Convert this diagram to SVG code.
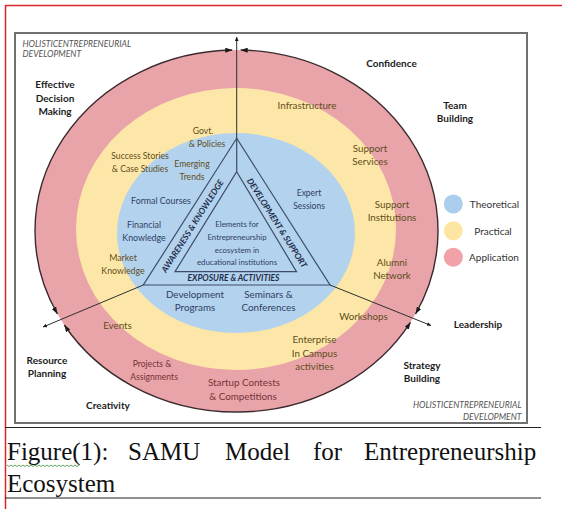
<svg xmlns="http://www.w3.org/2000/svg" width="562" height="509" viewBox="0 0 562 509">
  <style>
    text { font-family: Lato, "Open Sans", "Liberation Sans", sans-serif; text-anchor: middle; }
    .skill { font-size: 10px; font-weight: 700; fill: #1c1c1c; }
    .holistic { font-size: 8.6px; font-style: italic; fill: #555; text-anchor: start; }
    .holistic-r { font-size: 8.6px; font-style: italic; fill: #555; text-anchor: end; }
    .legend { font-size: 10px; fill: #333; }
    .theo { fill: #2e3f63; }
    .prac { fill: #5f4e1a; }
    .appl { fill: #763338; }
    .side { font-size: 8.5px; font-weight: 700; font-style: italic; fill: #1f2d4a; }
    .core { font-size: 7.8px; fill: #2e3f63; }
    .caption { font-family: "Liberation Serif", "Times New Roman", serif; font-size: 25px; fill: #111; text-anchor: start; }
    .axis { stroke: #2e2e2e; stroke-width: 1; fill: none; }
    .rim { stroke: #3b2b2e; stroke-width: 1.4; fill: none; marker-start: url(#rimHead); marker-end: url(#rimHead); }
    .tri { stroke: #3d4d68; stroke-width: 1.2; fill: none; }
  </style>
  <defs>
    <marker id="rimHead" markerUnits="userSpaceOnUse" markerWidth="7" markerHeight="5" refX="7" refY="2.5" orient="auto-start-reverse">
      <path d="M0,0 L7,2.5 L0,5 z" fill="#1a1a1a"/>
    </marker>
    <marker id="axisTip" markerUnits="userSpaceOnUse" markerWidth="4" markerHeight="4" refX="4" refY="2" orient="auto">
      <path d="M0,0 L4,2 L0,4 z" fill="#1a1a1a"/>
    </marker>
  </defs>

  <!-- page edges -->
  <g id="page">
    <rect width="562" height="509" fill="#ffffff"/>
    <line x1="5.5" y1="5" x2="5.5" y2="509" stroke="#d9262b" stroke-width="1.5"/>
    <line x1="5" y1="5.5" x2="562" y2="5.5" stroke="#d9262b" stroke-width="1.5"/>
  </g>

  <!-- figure frame -->
  <g id="frame">
    <rect x="15" y="33" width="512" height="390" fill="#ffffff" stroke="#707070" stroke-width="2"/>
  </g>

  <!-- concentric bands -->
  <g id="rings">
    <ellipse id="ring-application" cx="236.5" cy="231" rx="201.5" ry="181" fill="#e9a4a9"/>
    <ellipse id="ring-practical" cx="236" cy="229" rx="160" ry="141" fill="#fde7a8"/>
    <ellipse id="ring-theoretical" cx="236" cy="233" rx="119" ry="100" fill="#b3d2ee"/>
  </g>

  <!-- axes and rim arcs -->
  <g id="connectors">
    <line class="axis" x1="236.7" y1="138.3" x2="236.7" y2="37" marker-end="url(#axisTip)"/>
    <line class="axis" x1="143.3" y1="285" x2="43" y2="327" marker-end="url(#axisTip)"/>
    <line class="axis" x1="330" y1="285" x2="431" y2="325.5" marker-end="url(#axisTip)"/>
    <path class="rim" d="M240.7,50.04 A201.5,181 0 0 1 415.55,314"/>
    <path class="rim" d="M410.5,322.3 A201.5,181 0 0 1 64.3,325"/>
    <path class="rim" d="M57.45,314 A201.5,181 0 0 1 232.3,50.04"/>
  </g>

  <!-- central triangle -->
  <g id="triangle">
    <polygon class="tri" points="236.7,138.3 330,285 143.3,285"/>
    <polygon class="tri" points="236.7,171.7 296.5,271.7 175,271.7"/>
    <line class="tri" x1="236.7" y1="138.3" x2="236.7" y2="171.7"/>
    <text class="side" transform="translate(192.5,226) rotate(-57.5)" x="0" y="3">AWARENESS &amp; KNOWLEDGE</text>
    <text class="side" transform="translate(277,223) rotate(57.5)" x="0" y="3">DEVELOPMENT &amp; SUPPORT</text>
    <text class="side" x="233.5" y="281.3">EXPOSURE &amp; ACTIVITIES</text>
    <g id="core">
      <text class="core" x="237" y="227">Elements for</text>
      <text class="core" x="237" y="240">Entrepreneurship</text>
      <text class="core" x="237" y="253">ecosystem in</text>
      <text class="core" x="237" y="265">educational institutions</text>
    </g>
  </g>

  <!-- theoretical elements -->
  <g id="theoretical-items" class="theo">
    <text x="161" y="204" font-size="8.8">Formal Courses</text>
    <text x="144" y="227.5" font-size="8.8">Financial</text>
    <text x="144" y="240.5" font-size="8.8">Knowledge</text>
    <text x="309" y="196" font-size="8.5">Expert</text>
    <text x="309" y="208.5" font-size="8.5">Sessions</text>
    <text x="195" y="298" font-size="9.8">Development</text>
    <text x="195" y="311" font-size="9.8">Programs</text>
    <text x="268.5" y="298" font-size="9.8">Seminars &amp;</text>
    <text x="268.5" y="311" font-size="9.8">Conferences</text>
  </g>

  <!-- practical elements -->
  <g id="practical-items" class="prac">
    <text x="203" y="134" font-size="8.6">Govt.</text>
    <text x="207" y="147" font-size="8.6">&amp; Policies</text>
    <text x="140" y="159" font-size="8.6">Success Stories</text>
    <text x="140" y="172" font-size="8.6">&amp; Case Studies</text>
    <text x="192" y="167" font-size="8.6">Emerging</text>
    <text x="192" y="179.5" font-size="8.6">Trends</text>
    <text x="123" y="261" font-size="8.8">Market</text>
    <text x="123" y="273.5" font-size="8.8">Knowledge</text>
    <text x="307" y="109" font-size="9.8">Infrastructure</text>
    <text x="370" y="152" font-size="9.8">Support</text>
    <text x="370" y="165" font-size="9.8">Services</text>
    <text x="392" y="208" font-size="9.8">Support</text>
    <text x="392" y="221" font-size="9.8">Institutions</text>
    <text x="392" y="266" font-size="9.8">Alumni</text>
    <text x="392" y="279" font-size="9.8">Network</text>
    <text x="363.5" y="319.5" font-size="9.8">Workshops</text>
    <text x="117.5" y="329" font-size="9.8">Events</text>
    <text x="314.5" y="343" font-size="9.8">Enterprise</text>
    <text x="314.5" y="356.5" font-size="9.8">In Campus</text>
    <text x="314.5" y="369.5" font-size="9.8">activities</text>
  </g>

  <!-- application elements -->
  <g id="application-items" class="appl">
    <text x="152" y="367" font-size="8.6">Projects &amp;</text>
    <text x="154" y="380" font-size="8.6">Assignments</text>
    <text x="244" y="386" font-size="9.8">Startup Contests</text>
    <text x="243" y="399.5" font-size="9.8">&amp; Competitions</text>
  </g>

  <!-- outcomes around the rim -->
  <g id="outcomes" class="skill">
    <text x="55" y="88">Effective</text>
    <text x="55" y="101.5">Decision</text>
    <text x="55" y="114.5">Making</text>
    <text x="391.5" y="67">Confidence</text>
    <text x="455" y="109">Team</text>
    <text x="455" y="122">Building</text>
    <text x="478" y="327.5">Leadership</text>
    <text x="422" y="369">Strategy</text>
    <text x="422" y="382">Building</text>
    <text x="47" y="364">Resource</text>
    <text x="47" y="377">Planning</text>
    <text x="108" y="409">Creativity</text>
  </g>

  <!-- corner titles -->
  <g id="titles">
    <text class="holistic" x="22.5" y="46.5">HOLISTICENTREPRENEURIAL</text>
    <text class="holistic" x="22.5" y="56.5">DEVELOPMENT</text>
    <text class="holistic-r" x="521.5" y="407.5">HOLISTICENTREPRENEURIAL</text>
    <text class="holistic-r" x="521.5" y="420">DEVELOPMENT</text>
  </g>

  <!-- legend -->
  <g id="legend">
    <circle cx="453.3" cy="204" r="9.5" fill="#abcdee"/>
    <circle cx="453.3" cy="230.7" r="9.5" fill="#fde5a2"/>
    <circle cx="453.3" cy="257.3" r="9.5" fill="#f0a2a8"/>
    <text class="legend" x="494.5" y="207.5">Theoretical</text>
    <text class="legend" x="493" y="234.5">Practical</text>
    <text class="legend" x="494" y="261">Application</text>
  </g>

  <!-- caption -->
  <g id="caption">
    <line x1="5" y1="427.5" x2="541" y2="427.5" stroke="#222" stroke-width="1.2"/>
    <text class="caption" y="460"><tspan x="7">Figure(1):</tspan><tspan x="128">SAMU</tspan><tspan x="225">Model</tspan><tspan x="313">for</tspan><tspan x="364">Entrepreneurship</tspan></text>
    <text class="caption" x="7" y="492">Ecosystem</text>
    <path d="M7,465 l2,1.5 l2,-1.5 l2,1.5 l2,-1.5 l2,1.5 l2,-1.5 l2,1.5 l2,-1.5 l2,1.5 l2,-1.5 l2,1.5 l2,-1.5 l2,1.5 l2,-1.5 l2,1.5 l2,-1.5 l2,1.5 l2,-1.5 l2,1.5 l2,-1.5 l2,1.5 l2,-1.5 l2,1.5 l2,-1.5 l2,1.5 l2,-1.5 l2,1.5 l2,-1.5 l2,1.5 l2,-1.5 l2,1.5 l2,-1.5 l2,1.5 l2,-1.5 l2,1.5 l2,-1.5" fill="none" stroke="#4c9a4c" stroke-width="0.9"/>
    <line x1="5" y1="498" x2="541" y2="498" stroke="#222" stroke-width="1.2"/>
  </g>
</svg>
